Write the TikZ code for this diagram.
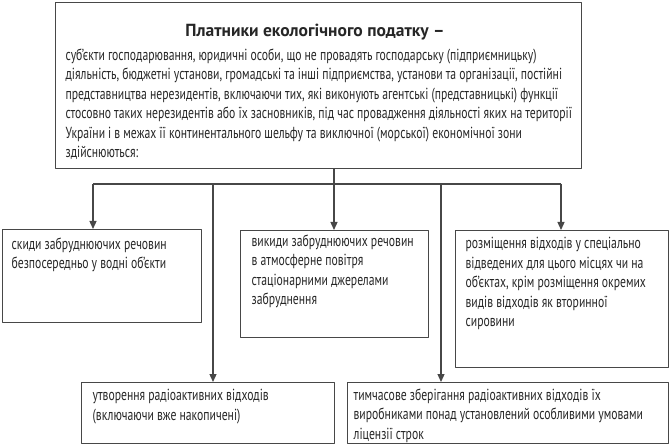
\documentclass[tikz,border=0pt]{standalone}
\usepackage{fontspec}
\setmainfont{PT Sans}[FakeStretch=0.73]
\newfontfamily\headfont{PT Sans}
\usetikzlibrary{arrows.meta}
\definecolor{inkcol}{rgb}{0.15,0.15,0.15}
\definecolor{strokecol}{rgb}{0.28,0.28,0.28}
\tikzset{
  box/.style={draw=strokecol, rectangle, inner sep=0pt, anchor=north west},
  txt/.style={inner sep=0pt, anchor=north west, align=left, text=inkcol,
    font=\fontsize{16bp}{19.5bp}\selectfont},
}
\begin{document}
\begin{tikzpicture}[x=1bp,y=-1bp,>={Triangle[length=8bp,width=7bp]},line join=bevel]
  \pgfsetlinewidth{1.3bp}
  \useasboundingbox (0,0) rectangle (669,444);
%%
  % Node: top
  \node [box, minimum width=526bp, minimum height=166bp] (top) at (55,2) {};
  \node [inner sep=0pt, anchor=base, text=inkcol, font=\fontsize{17.5bp}{20bp}\headfont\bfseries] (title) at (315,37) {Платники екологічного податку –};
  \node [txt] (t0) at (65,48) {суб'єкти господарювання, юридичні особи, що не провадять господарську (підприємницьку)\\
    діяльність, бюджетні установи, громадські та інші підприємства, установи та організації, постійні\\
    представництва нерезидентів, включаючи тих, які виконують агентські (представницькі) функції\\
    стосовно таких нерезидентів або їх засновників, під час провадження діяльності яких на території\\
    України і в межах її континентального шельфу та виключної (морської) економічної зони\\
    здійснюються:};
  % Node: b1
  \node [box, minimum width=199bp, minimum height=93bp] (b1) at (2,229) {};
  \node [txt] (t1) at (11,237) {скиди забруднюючих речовин\\безпосередньо у водні об'єкти};
  % Node: b2
  \node [box, minimum width=188bp, minimum height=107bp] (b2) at (240,230) {};
  \node [txt] (t2) at (251,234) {викиди забруднюючих речовин\\в атмосферне повітря\\стаціонарними джерелами\\забруднення};
  % Node: b3
  \node [box, minimum width=213bp, minimum height=137bp] (b3) at (455,230) {};
  \node [txt] (t3) at (465,237) {розміщення відходів у спеціально\\відведених для цього місцях чи на\\об'єктах, крім розміщення окремих\\видів відходів як вторинної\\сировини};
  % Node: b4
  \node [box, minimum width=253bp, minimum height=61bp] (b4) at (81,382) {};
  \node [txt] (t4) at (92,389) {утворення радіоактивних відходів\\(включаючи вже накопичені)};
  % Node: b5
  \node [box, minimum width=321bp, minimum height=61bp] (b5) at (347,382) {};
  \node [txt] (t5) at (353,388) {тимчасове зберігання радіоактивних відходів їх\\виробниками понад установлений особливими умовами\\ліцензії строк};
%%
  \pgfsetstrokecolor{strokecol}
  \coordinate (d1) at (93,184);
  \coordinate (d4) at (213,184);
  \coordinate (d2) at (334,184);
  \coordinate (d5) at (441,184);
  \coordinate (d3) at (561,184);
  % Edge: top -- bus
  \draw [draw=strokecol] (d2 |- top.south) -- (d2);
  \draw [draw=strokecol] (d1) -- (d3);
  % Edge: bus -- b1..b5
  \draw [->, draw=strokecol, fill=strokecol] (d1) -- (d1 |- b1.north);
  \draw [->, draw=strokecol, fill=strokecol] (d2) -- (d2 |- b2.north);
  \draw [->, draw=strokecol, fill=strokecol] (d3) -- (d3 |- b3.north);
  \draw [->, draw=strokecol, fill=strokecol] (d4) -- (d4 |- b4.north);
  \draw [->, draw=strokecol, fill=strokecol] (d5) -- (d5 |- b5.north);
%
\end{tikzpicture}
\end{document}
